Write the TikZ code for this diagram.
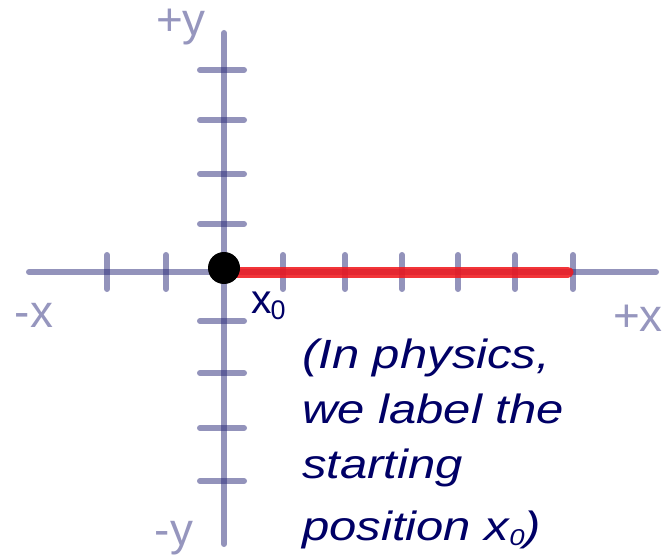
\documentclass[tikz,border=0pt]{standalone}
\usepackage{fontspec}
\setmainfont{Liberation Sans}
\newfontfamily\widesans[FakeStretch=1.2]{Liberation Sans}
\definecolor{axiscol}{RGB}{40,40,120}
\definecolor{axislbl}{RGB}{150,150,190}
\definecolor{navy}{RGB}{0,0,102}
\definecolor{redline}{RGB}{240,25,30}
\tikzset{
  axisline/.style={draw=axiscol, draw opacity=0.5, line width=6bp, line cap=round},
  tickmark/.style={draw=axiscol, draw opacity=0.5, line width=6bp, line cap=round},
  axislabel/.style={text=axislbl, inner sep=0pt, anchor=base, font=\fontsize{46}{46}\selectfont},
  note/.style={text=navy, inner sep=0pt, anchor=base west, font=\widesans\itshape\fontsize{41}{41}\selectfont},
}
\begin{document}
\begin{tikzpicture}[x=1bp,y=-1bp]
\useasboundingbox (0,0) rectangle (672,560);
% axes
\coordinate (xl) at (29,272);
\coordinate (xr) at (656,272);
\coordinate (yt) at (224,33);
\coordinate (yb) at (224,544);
\draw[axisline] (xl) -- (xr);
\draw[axisline] (yt) -- (yb);
% ticks on y axis
\foreach \ty in {70,120,174,224,321,373,428,481}
  \draw[tickmark] (200,\ty) -- (244,\ty);
% ticks on x axis
\foreach \tx in {107,166,283,345,402,458,515,573}
  \draw[tickmark] (\tx,255) -- (\tx,289);
% red segment
\coordinate (rs) at (224,272);
\coordinate (re) at (568,272);
\draw[draw=redline, draw opacity=0.88, line width=11bp, line cap=round] (rs) -- (re);
% starting dot
\node[circle, fill=black, minimum size=32bp, inner sep=0pt] (dot) at (224,268) {};
% axis labels
\node[axislabel] (py) at (181,36) {+y};
\node[axislabel] (my) at (174,545) {-y};
\node[axislabel] (mx) at (34,327) {-x};
\node[axislabel] (px) at (638,331) {+x};
% x0 label
\node[text=navy, inner sep=0pt, anchor=base west] (x0) at (251,313)
  {\fontsize{41}{41}\selectfont x\kern-1bp\raisebox{-6bp}{\fontsize{27}{27}\selectfont 0}};
% note
\node[note] (l1) at (302,368) {(In physics,};
\node[note] (l2) at (302,423) {we label the};
\node[note] (l3) at (302,478) {starting};
\node[note] (l4) at (302,540) {position x\raisebox{-5bp}{\fontsize{23}{23}\selectfont 0})};
\end{tikzpicture}
\end{document}
